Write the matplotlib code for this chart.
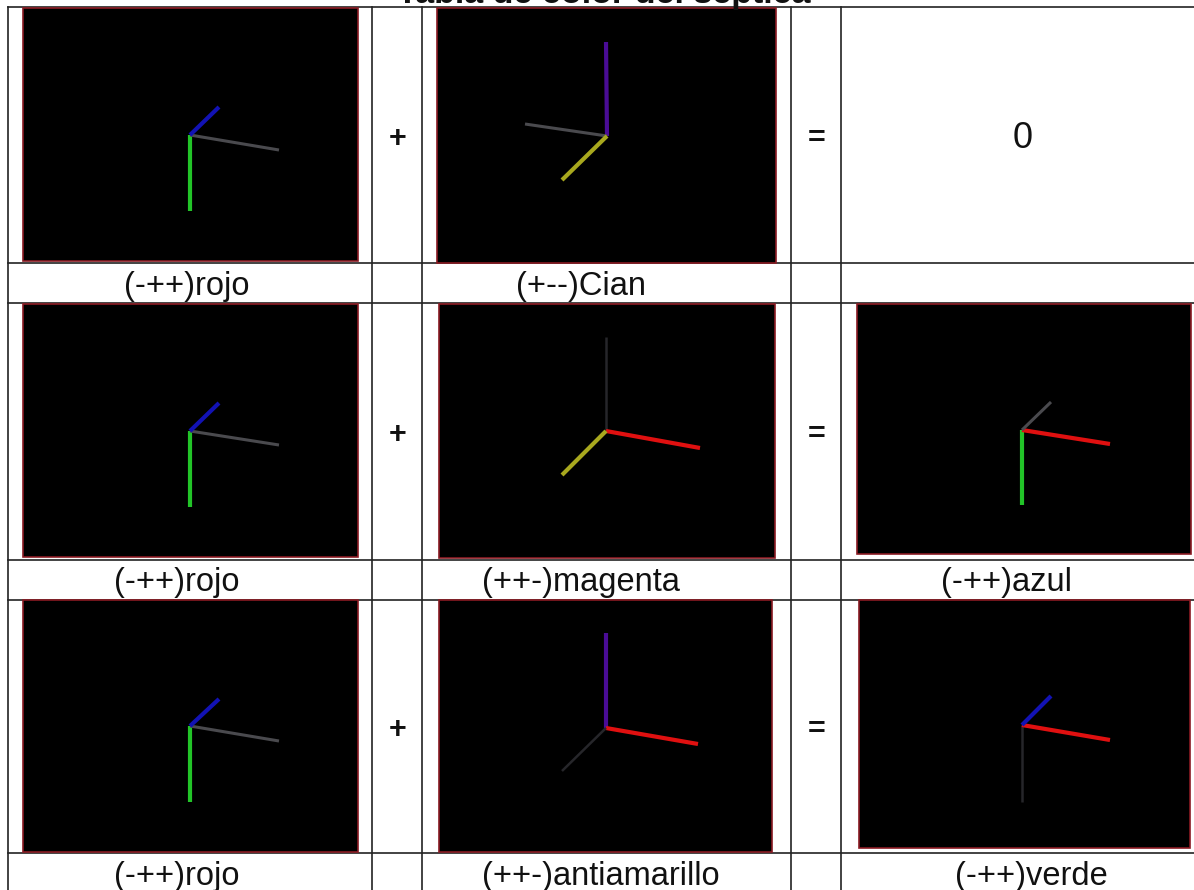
import matplotlib
matplotlib.use("Agg")
import matplotlib.pyplot as plt
from matplotlib.patches import Rectangle

WIDTH, HEIGHT = 1194, 890

TITLE = "Tabla de color del septica"

GRID_X = [8, 372, 422, 791, 841]
GRID_Y = [7, 263, 303, 560, 600, 853]

# left, top, right, bottom of each screenshot
PANELS = [
    (23, 8, 358, 261),
    (437, 8, 776, 263),
    (23, 304, 358, 557),
    (439, 304, 775, 558),
    (857, 304, 1191, 554),
    (23, 600, 358, 852),
    (439, 600, 772, 852),
    (859, 600, 1190, 848),
]
ORIGINS = [
    (190, 135), (607, 136),
    (190, 431), (606, 431), (1022, 430),
    (190, 726), (606, 728), (1022, 725),
]
UP_OR_DOWN_TIPS = [
    (190, 211), (606, 42),
    (190, 507), (606, 337), (1022, 505),
    (190, 802), (606, 633), (1022, 802),
]
RIGHT_OR_LEFT_TIPS = [
    (279, 150), (525, 124),
    (279, 445), (700, 448), (1110, 444),
    (279, 741), (698, 744), (1110, 740),
]
DIAGONAL_TIPS = [
    (219, 107), (562, 180),
    (219, 403), (562, 475), (1051, 402),
    (219, 699), (562, 771), (1051, 696),
]

GREEN = "#22c428"
BLUE = "#1212b4"
GRAY = "#4a4a4e"
DARK = "#26262a"
RED = "#e01010"
YELLOW = "#a8a81e"
PURPLE = "#4a0c96"

LINE_WIDTHS = {GREEN: 3.0, BLUE: 3.0, GRAY: 2.2, DARK: 1.8, RED: 3.0, YELLOW: 3.0, PURPLE: 3.0}

UP_OR_DOWN_COLORS = [GREEN, PURPLE, GREEN, DARK, GREEN, GREEN, PURPLE, DARK]
RIGHT_OR_LEFT_COLORS = [GRAY, GRAY, GRAY, RED, RED, GRAY, RED, RED]
DIAGONAL_COLORS = [BLUE, YELLOW, BLUE, YELLOW, GRAY, BLUE, DARK, BLUE]

CAPTIONS = [
    ("(-++)rojo", 187, 285), ("(+--)Cian", 581, 285),
    ("(-++)rojo", 177, 581), ("(++-)magenta", 581, 581), ("(-++)azul", 1006, 581),
    ("(-++)rojo", 177, 874), ("(++-)antiamarillo", 601, 874), ("(-++)verde", 1031, 874),
]
SYMBOLS = [
    ("+", 398, 136), ("=", 817, 136),
    ("+", 398, 432), ("=", 817, 432),
    ("+", 398, 727), ("=", 817, 727),
]
RESULT_ZERO = ("0", 1023, 136)


def main():
    plt.rcParams["font.family"] = ["Liberation Sans", "DejaVu Sans"]
    fig = plt.figure(figsize=(WIDTH / 100, HEIGHT / 100), dpi=100)
    ax = fig.add_axes([0, 0, 1, 1])
    ax.set_xlim(0, WIDTH)
    ax.set_ylim(HEIGHT, 0)
    ax.axis("off")

    for x in GRID_X:
        ax.plot([x, x], [GRID_Y[0], HEIGHT], color="#222222", lw=1.2, zorder=1)
    for y in GRID_Y:
        ax.plot([GRID_X[0], WIDTH], [y, y], color="#222222", lw=1.2, zorder=1)

    for i, (left, top, right, bottom) in enumerate(PANELS):
        ax.add_patch(Rectangle((left, top), right - left, bottom - top,
                               facecolor="black", edgecolor="#8a1a22", lw=1.2, zorder=2))
        ox, oy = ORIGINS[i]
        segments = [
            (UP_OR_DOWN_TIPS[i], UP_OR_DOWN_COLORS[i]),
            (RIGHT_OR_LEFT_TIPS[i], RIGHT_OR_LEFT_COLORS[i]),
            (DIAGONAL_TIPS[i], DIAGONAL_COLORS[i]),
        ]
        for (tx, ty), color in segments:
            ax.plot([ox, tx], [oy, ty], color=color, lw=LINE_WIDTHS[color],
                    solid_capstyle="butt", zorder=3)

    for text, x, y in CAPTIONS:
        ax.text(x, y + 2, text, fontsize=23.5, ha="center", va="center", color="#111111", zorder=4)
    for text, x, y in SYMBOLS:
        ax.text(x, y + 3, text, fontsize=22, fontweight="bold", ha="center", va="center",
                color="#111111", zorder=4)
    zero, zero_x, zero_y = RESULT_ZERO
    ax.text(zero_x, zero_y + 3, zero, fontsize=26, ha="center", va="center", color="#111111", zorder=4)

    ax.text(604, -6, TITLE, fontsize=24.5, fontweight="bold", ha="center", va="center",
            color="#111111", zorder=4)

    fig.savefig("out.png", dpi=100)
    plt.close(fig)


if __name__ == "__main__":
    main()
